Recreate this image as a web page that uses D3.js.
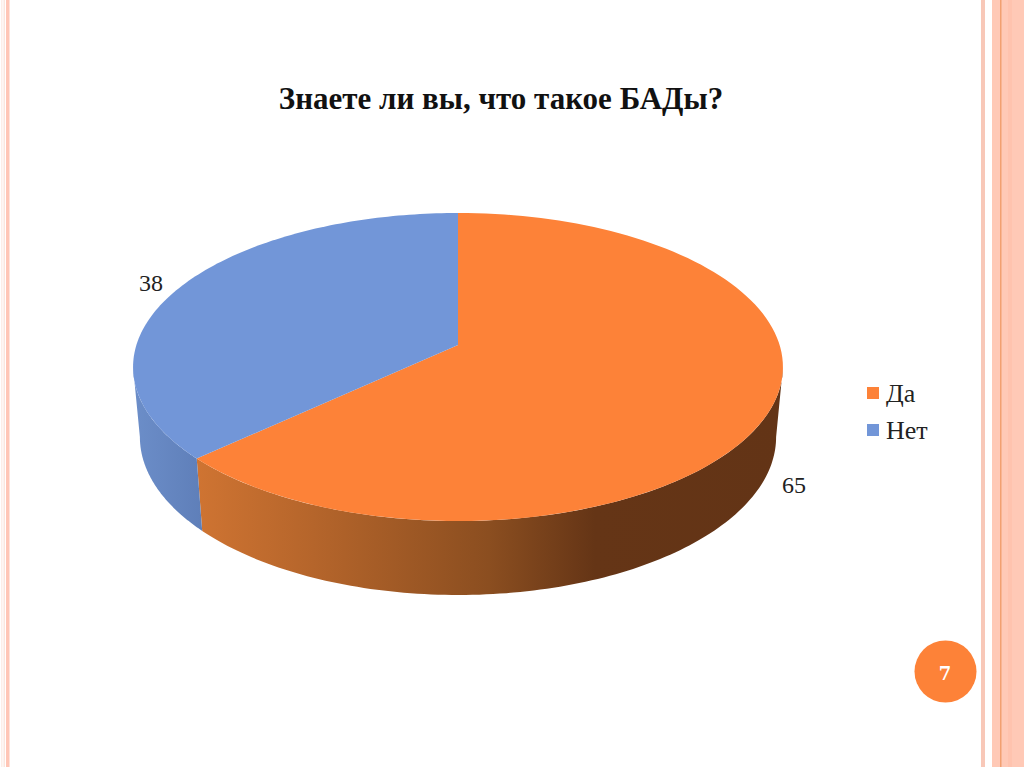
<!DOCTYPE html>
<html><head><meta charset="utf-8">
<script src="https://cdn.jsdelivr.net/npm/d3@7/dist/d3.min.js"></script>
<style>html,body{margin:0;padding:0;background:#fff}svg{display:block}text{font-family:"Liberation Serif",serif}</style>
</head><body><svg id="c" width="1024" height="767"></svg>
<script>
(function(){
const title = "Знаете ли вы, что такое БАДы?";
const categories = ["Да", "Нет"];
const values = [65, 38];
const colors = ["#fd8238", "#7296d8"];
const slideNumber = "7";
const svg = d3.select("#c");
const defs = svg.append("defs");

// slide frame
[[1,1.5,"#fdeee8"],[3.5,1.5,"#fbe6de"],[6,3.5,"#ffc6b6"],
 [981,4,"#f8c8b8"],[992,32,"#ffc9b6"],[1000,1.5,"#f2a070"],[1008,4,"#ffc3ae"]].forEach(b=>
  svg.append("rect").attr("x",b[0]).attr("y",0).attr("width",b[1]).attr("height",767).attr("fill",b[2]));

// perspective projection of the unit disc
const px = d3.scaleLinear().domain([-1,1]).range([458-321.6,458+321.6]);
const py = d3.scaleLinear().domain([-1,1]).range([345-150.86,345+150.86]);
const persp = -0.1429;
function topPt(a){const u=Math.sin(a),v=-Math.cos(a),w=1+persp*v;return [px(u/w),py(v/w)];}
function botPt(a){const u=Math.sin(a),v=-Math.cos(a),w=1+persp*v;
  return [458+(px(u/w)-458)*0.979, 414.4+(py(v/w)-345)*1.026];}
function samples(a0,a1){return d3.range(0,121).map(i=>a0+(a1-a0)*i/120);}
const line = d3.line();
const pie = d3.pie().sort(null)(values);
// the disc's widest points in the picture: the wall is visible between them
const wallStart = Math.acos(persp), wallEnd = 2*Math.PI - wallStart;

// rim gradients
const g0 = defs.append("linearGradient").attr("id","rim0").attr("gradientUnits","userSpaceOnUse")
  .attr("x1",196).attr("x2",782).attr("y1",0).attr("y2",0);
[[0,"#cf7432"],[0.2,"#b5652b"],[0.5,"#8b4e20"],[0.68,"#653516"],[1,"#633416"]].forEach(s=>
  g0.append("stop").attr("offset",s[0]).attr("stop-color",s[1]));
const g1 = defs.append("linearGradient").attr("id","rim1").attr("gradientUnits","userSpaceOnUse")
  .attr("x1",133).attr("x2",201).attr("y1",0).attr("y2",0);
[[0,"#6c8ec9"],[1,"#5f7fb9"]].forEach(s=>
  g1.append("stop").attr("offset",s[0]).attr("stop-color",s[1]));

// visible side walls
pie.forEach((d,i)=>{
  const a0=Math.max(d.startAngle,wallStart), a1=Math.min(d.endAngle,wallEnd);
  if(a1<=a0) return;
  const s=samples(a0,a1);
  svg.append("path").attr("d",line(s.map(topPt).concat(s.slice().reverse().map(botPt)))+"Z")
    .attr("fill",`url(#rim${i})`);
});
// top faces
pie.forEach((d,i)=>{
  const pts=[[px(0),py(0)]].concat(samples(d.startAngle,d.endAngle).map(topPt));
  svg.append("path").attr("d",line(pts)+"Z").attr("fill",colors[i]);
});

// title
svg.append("text").attr("x",501).attr("y",109).attr("text-anchor","middle")
  .attr("font-size",31).attr("font-weight","bold").attr("fill","#111").text(title);

// data labels
const labelPos = [[782,493],[139,291]];
pie.forEach((d,i)=>svg.append("text").attr("x",labelPos[i][0]).attr("y",labelPos[i][1])
  .attr("font-size",24).attr("fill","#222").text(d.data));

// legend
const ly = d3.scalePoint().domain(categories).range([393,430]);
categories.forEach((c,i)=>{
  svg.append("rect").attr("x",867).attr("y",ly(c)-6).attr("width",12).attr("height",12).attr("fill",colors[i]);
  svg.append("text").attr("x",886).attr("y",ly(c)+9).attr("font-size",26).attr("fill","#222").text(c);
});

// slide number badge
svg.append("circle").attr("cx",945.5).attr("cy",671.5).attr("r",31).attr("fill","#fd8238");
svg.append("text").attr("x",945).attr("y",680).attr("text-anchor","middle")
  .style("font-family","DejaVu Serif").attr("font-size",18).attr("font-weight","bold").attr("fill","#fff").text(slideNumber);
})();
</script></body></html>
